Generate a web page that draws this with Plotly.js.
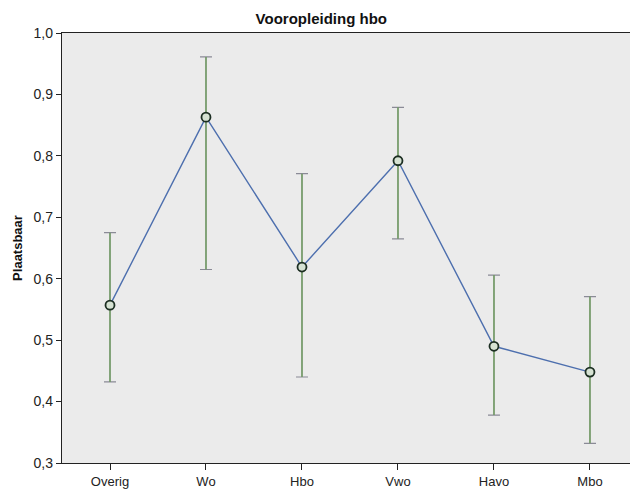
<!DOCTYPE html>
<html>
<head>
<meta charset="utf-8">
<script src="https://cdn.plot.ly/plotly-3.0.1.min.js"></script>
<style>html,body{margin:0;padding:0;background:#fff;}#chart{width:630px;height:495px;}</style>
</head>
<body>
<div id="chart"></div>
<script>
const categories = ['Overig', 'Wo', 'Hbo', 'Vwo', 'Havo', 'Mbo'];
const meanValues = [0.557, 0.863, 0.619, 0.792, 0.490, 0.448];
const upperValues = [0.675, 0.961, 0.771, 0.879, 0.606, 0.571];
const lowerValues = [0.432, 0.615, 0.440, 0.665, 0.378, 0.332];
const yTicks = [0.3, 0.4, 0.5, 0.6, 0.7, 0.8, 0.9, 1.0];

const plus = upperValues.map((u, i) => u - meanValues[i]);
const minus = meanValues.map((m, i) => m - lowerValues[i]);

const capTrace = {
  x: categories, y: meanValues, type: 'scatter', mode: 'markers',
  marker: {size: 1, color: 'rgba(0,0,0,0)'},
  error_y: {type: 'data', symmetric: false, array: plus, arrayminus: minus,
            color: '#8a8a96', thickness: 1.2, width: 6},
  hoverinfo: 'skip', showlegend: false
};
const stemTrace = {
  x: categories, y: meanValues, type: 'scatter', mode: 'markers',
  marker: {size: 1, color: 'rgba(0,0,0,0)'},
  error_y: {type: 'data', symmetric: false, array: plus, arrayminus: minus,
            color: '#6f9e5e', thickness: 1.4, width: 0},
  hoverinfo: 'skip', showlegend: false
};
const lineTrace = {
  x: categories, y: meanValues, type: 'scatter', mode: 'lines+markers',
  line: {color: '#4d6fae', width: 1.4},
  marker: {symbol: 'circle', size: 9, color: '#d6e2d3',
           line: {color: '#1c2e22', width: 1.8}},
  showlegend: false
};

const layout = {
  width: 630, height: 495,
  margin: {l: 62, r: 0, t: 33, b: 32},
  paper_bgcolor: '#ffffff',
  plot_bgcolor: '#ebebeb',
  separators: ',.',
  font: {family: 'Liberation Sans, Arial, sans-serif', color: '#222', size: 13},
  title: {text: '<b>Vooropleiding hbo</b>', x: 0.51, xref: 'container', xanchor: 'center',
          y: 0.962, yref: 'container', yanchor: 'middle',
          font: {size: 15, color: '#111', family: 'Liberation Sans, Arial, sans-serif'}},
  xaxis: {
    type: 'category', range: [-0.5, 5.417],
    showgrid: false, zeroline: false,
    showline: true, linecolor: '#222', linewidth: 1.2, mirror: true,
    ticks: 'outside', ticklen: 6, tickcolor: '#222', tickwidth: 1,
    tickfont: {size: 13, color: '#222'}
  },
  yaxis: {
    range: [0.3, 1.0], tickvals: yTicks, tickformat: '.1f',
    showgrid: false, zeroline: false,
    showline: true, linecolor: '#222', linewidth: 1.2,
    ticks: 'outside', ticklen: 5, tickcolor: '#222', tickwidth: 1,
    tickfont: {size: 14, color: '#222'},
    title: {text: '<b>Plaatsbaar</b>', standoff: 8, font: {size: 13, color: '#111'}}
  }
};

Plotly.newPlot('chart', [capTrace, stemTrace, lineTrace], layout, {displayModeBar: false, staticPlot: true});
</script>
</body>
</html>
